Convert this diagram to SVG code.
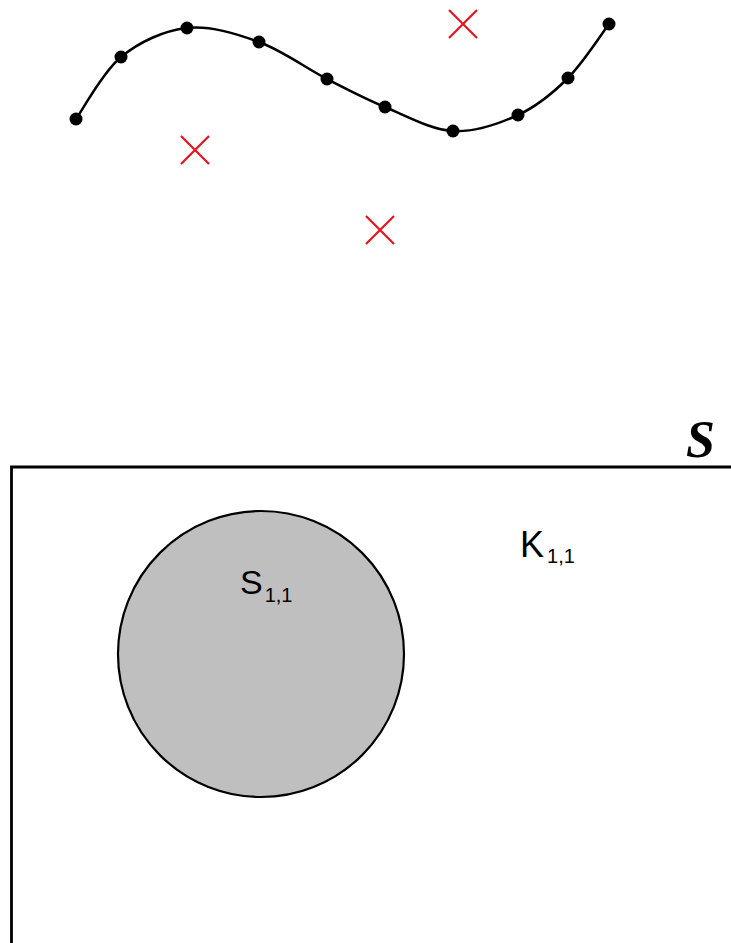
<svg xmlns="http://www.w3.org/2000/svg" width="731" height="943" viewBox="0 0 731 943">
<style>
.dot{fill:#000}
.cross{stroke:#e8141c;stroke-width:2.2;fill:none}
.lbl{font-family:"Liberation Sans",Arial,sans-serif;fill:#000}
</style>
<rect width="731" height="943" fill="#fff"/>
<g id="curve">
<path d="M76,119 C83.5,108.7 102.5,72.2 121,57 C139.5,41.8 164,30.5 187,28 C210,25.5 235.7,33.5 259,42 C282.3,50.5 306,68.2 327,79 C348,89.8 364,98.3 385,107 C406,115.7 430.8,129.7 453,131 C475.2,132.3 498.8,123.8 518,115 C537.2,106.2 552.8,93.2 568,78 C583.2,62.8 602.2,33 609,24" fill="none" stroke="#000" stroke-width="2.5"/>
<circle class="dot" cx="76" cy="119" r="6.5"/>
<circle class="dot" cx="121" cy="57" r="6.5"/>
<circle class="dot" cx="187" cy="28" r="6.5"/>
<circle class="dot" cx="259" cy="42" r="6.5"/>
<circle class="dot" cx="327" cy="79" r="6.5"/>
<circle class="dot" cx="385" cy="107" r="6.5"/>
<circle class="dot" cx="453" cy="131" r="6.5"/>
<circle class="dot" cx="518" cy="115" r="6.5"/>
<circle class="dot" cx="568" cy="78" r="6.5"/>
<circle class="dot" cx="609" cy="24" r="6.5"/>
</g>
<g id="crosses">
<path class="cross" d="M181,136 L209,164 M209,136 L181,164"/>
<path class="cross" d="M449,10 L477,38 M477,10 L449,38"/>
<path class="cross" d="M366,216 L394,244 M394,216 L366,244"/>
</g>
<g id="set-S">
<path d="M11.5,943 L11.5,467 L731,467" fill="none" stroke="#000" stroke-width="2.8"/>
<text x="686" y="457" font-family="'Liberation Serif','Times New Roman',serif" font-style="italic" font-weight="bold" font-size="52" fill="#000">S</text>
</g>
<g id="S11">
<circle cx="261" cy="654" r="143" fill="#bfbfbf" stroke="#000" stroke-width="2.2"/>
<text class="lbl" x="240" y="594" font-size="34">S<tspan font-size="20" dx="2" dy="8">1,1</tspan></text>
</g>
<g id="K11">
<text class="lbl" x="520" y="557" font-size="36">K<tspan font-size="20" dx="3" dy="6">1,1</tspan></text>
</g>
</svg>
